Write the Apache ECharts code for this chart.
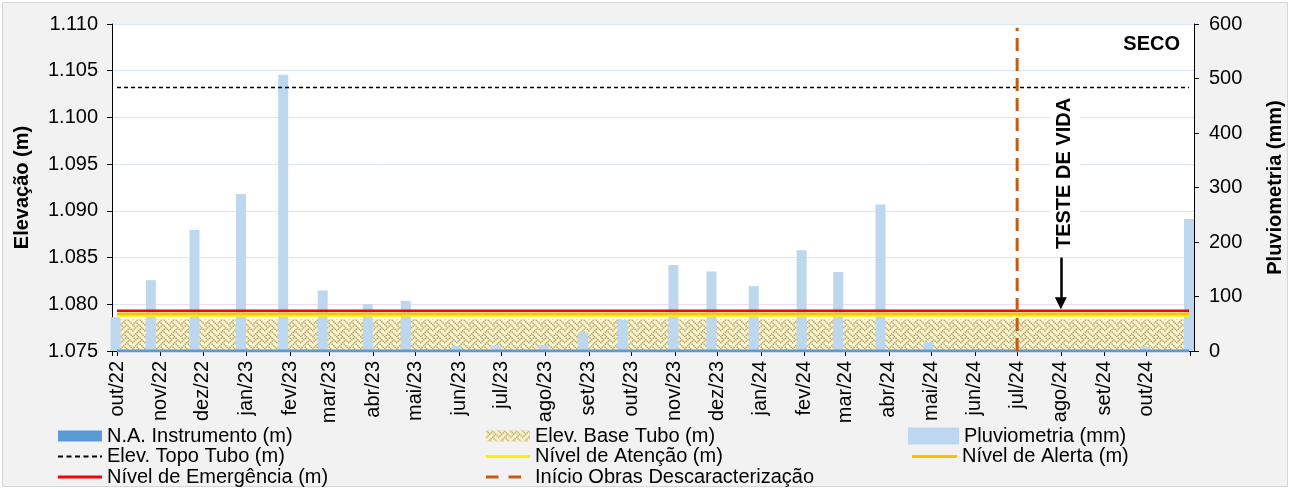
<!DOCTYPE html>
<html><head><meta charset="utf-8">
<script src="https://cdn.jsdelivr.net/npm/echarts@6/dist/echarts.min.js"></script>
<style>html,body{margin:0;padding:0;background:#fff;}#c{width:1290px;height:489px;}</style>
</head><body><div id="c"></div>
<script>
// ---- data ----
const monthNames = ['jan','fev','mar','abr','mai','jun','jul','ago','set','out','nov','dez'];
const xMin = '2022-10-01';
const xMax = '2024-10-31';
const rainDates = ['2022-09-30','2022-10-25','2022-11-25','2022-12-28','2023-01-27','2023-02-24','2023-03-28','2023-04-24','2023-05-30','2023-06-27','2023-07-31','2023-08-28','2023-09-25','2023-10-31','2023-11-27','2023-12-27','2024-01-30','2024-02-25','2024-03-26','2024-04-29','2024-09-30','2024-10-31'];
const rainValues = [62,130,222,288,507,111,86,92,9,10,11,34,57,158,146,119,185,145,269,16,8,242];
const naDates = ['2022-10-01','2023-04-01','2023-10-01','2024-04-01','2024-10-31'];
const naValues = [1.075,1.075,1.075,1.075,1.075];
const baseTubo = 1.0784;
const topoTubo = 1.1032;
const nivelAtencao = 1.0788;
const nivelAlerta = 1.0790;
const nivelEmergencia = 1.0793;
const obrasDate = '2024-07-01';
const obrasRange = [1.075, 1.1096];
const testeDate = '2024-08-01';
const arrowRange = [1.0850, 1.0801];
const testeLabelY = 1.0940;
const secoLabelY = 1.1078;

const FONT = 'Liberation Sans, Arial, sans-serif';
const DAY = 864e5;
const ts = (s) => { const p = s.split('-').map(Number); return Date.UTC(p[0], p[1]-1, p[2]); };

function makeWeave(){
  const s = 1.5, c = document.createElement('canvas');
  c.width = 12; c.height = 12;
  const g = c.getContext('2d');
  g.fillStyle = '#fcf4c8'; g.fillRect(0,0,12,12);
  const rows = [0x88,0x54,0x22,0x45,0x88,0x14,0x22,0x51];
  g.fillStyle = '#b3a77a';
  rows.forEach((r,y)=>{for(let x=0;x<8;x++){ if(r & (0x80>>x)) g.fillRect(x*s,y*s,s,s);}});
  return c;
}
const weave = {image: makeWeave(), repeat: 'repeat'};

const pair = (d, v) => d.map((x,i)=>[ts(x), v[i]]);
const flat = (v) => [[ts(xMin), v],[ts(xMax), v]];

const ICON_DASH_BLACK = 'path://M0,0h5v2h-5zM8.5,0h5v2h-5zM17,0h5v2h-5zM25.5,0h5v2h-5zM34,0h5v2h-5zM42,0h2v2h-2z';
const ICON_DASH_ORANGE = 'path://M0,0h12.5v3h-12.5zM22.5,0h12.5v3h-12.5zM43.9,0h0.1v0.1h-0.1z';

const legendText = {fontSize:20, lineHeight:20, color:'#000', fontFamily:FONT};
function leg(name, left, top, icon, w, h, extra){
  return {left:left, top:top, padding:0, itemWidth:w, itemHeight:h, selectedMode:false,
    textStyle:legendText, data:[Object.assign({name:name, icon:icon}, extra||{})]};
}

const chart = echarts.init(document.getElementById('c'), null, {renderer:'canvas'});
const xMaxTs = ts(xMax);
const option = {
  animation: false,
  useUTC: true,
  textStyle: {fontFamily: FONT, color:'#000'},
  graphic: [{type:'rect', z:-10, silent:true, shape:{x:2.5,y:2.5,width:1285,height:484},
    style:{fill:'#f2f2f2', stroke:'#d6d6d6', lineWidth:1}}],
  grid: {left:112, right:96, top:24, bottom:138, show:true, backgroundColor:'#fff', borderWidth:0,
    containLabel:false, outerBoundsMode:'none'},
  legend: [
    leg('N.A. Instrumento (m)', 58, 426, 'rect', 44, 11),
    leg('Elev. Topo Tubo (m)', 58, 446.5, ICON_DASH_BLACK, 44, 2),
    leg('Nível de Emergência (m)', 58, 467, 'rect', 44, 3),
    leg('Elev. Base Tubo (m)', 486, 426, 'rect', 44, 11, {itemStyle:{color:weave}}),
    leg('Nível de Atenção (m)', 486, 446.5, 'rect', 44, 3),
    leg('Início Obras Descaracterização', 486, 467, ICON_DASH_ORANGE, 44, 3),
    leg('Pluviometria (mm)', 908, 426, 'rect', 51, 17),
    leg('Nível de Alerta (m)', 912, 446.5, 'rect', 45, 3)
  ],
  xAxis: {
    type:'time', min:ts(xMin), max:xMaxTs, splitNumber:25,
    minInterval: 27*DAY, maxInterval: 32*DAY,
    axisLine:{show:true, onZero:false, lineStyle:{color:'#000', width:1}},
    axisTick:{show:true, length:5, lineStyle:{color:'#000'}},
    splitLine:{show:false}, minorTick:{show:false},
    axisLabel:{rotate:90, margin:10, fontSize:20, color:'#000', fontFamily:FONT,
      showMinLabel:true, showMaxLabel:false, hideOverlap:false,
      formatter:(v)=>{ if (v > xMaxTs - DAY) return '';
        const d=new Date(v + 6*3600e3); if (d.getUTCDate() !== 1) return '';
        return monthNames[d.getUTCMonth()]+'/'+String(d.getUTCFullYear()).slice(2);}}
  },
  yAxis: [
    {type:'value', position:'left', min:1.075, max:1.110, interval:0.005,
     axisLine:{show:true, lineStyle:{color:'#000'}},
     axisTick:{show:true, length:5, lineStyle:{color:'#000'}},
     axisLabel:{fontSize:20, color:'#000', margin:14, fontFamily:FONT, formatter:(v)=>v.toFixed(3)},
     splitLine:{show:true, lineStyle:{color:'#dde7f3', width:1}},
     name:'Elevação (m)', nameLocation:'middle', nameRotate:90, nameGap:80,
     nameTextStyle:{fontSize:20, fontWeight:'bold', color:'#000', fontFamily:FONT}},
    {type:'value', position:'right', min:0, max:600, interval:100,
     axisLine:{show:true, lineStyle:{color:'#000'}},
     axisTick:{show:true, length:5, lineStyle:{color:'#000'}},
     axisLabel:{fontSize:20, color:'#000', margin:15, fontFamily:FONT},
     splitLine:{show:false},
     name:'Pluviometria (mm)', nameLocation:'middle', nameRotate:90, nameGap:71,
     nameTextStyle:{fontSize:20, fontWeight:'bold', color:'#000', fontFamily:FONT}}
  ],
  series: [
    {name:'Elev. Base Tubo (m)', type:'line', data:flat(baseTubo), symbol:'none', z:1,
     lineStyle:{width:0, color:'#c9bd8a'}, itemStyle:{color:weave},
     areaStyle:{color:weave, opacity:1, origin:'start'}},
    {name:'Pluviometria (mm)', type:'bar', yAxisIndex:1, data:pair(rainDates, rainValues),
     barWidth:10, clip:true, z:2, itemStyle:{color:'#bdd7ee'}},
    {name:'N.A. Instrumento (m)', type:'line', data:pair(naDates, naValues), symbol:'none', z:3,
     lineStyle:{width:3, color:'#5b9bd5'}, itemStyle:{color:'#5b9bd5'}},
    {name:'Elev. Topo Tubo (m)', type:'line', data:flat(topoTubo), symbol:'none', z:4,
     lineStyle:{width:1.5, color:'#000', type:[4,3]}, itemStyle:{color:'#000'}},
    {name:'Nível de Atenção (m)', type:'line', data:flat(nivelAtencao), symbol:'none', z:5,
     lineStyle:{width:2.5, color:'#ffee00'}, itemStyle:{color:'#ffee00'}},
    {name:'Nível de Alerta (m)', type:'line', data:flat(nivelAlerta), symbol:'none', z:6,
     lineStyle:{width:2.5, color:'#ffc000'}, itemStyle:{color:'#ffc000'}},
    {name:'Nível de Emergência (m)', type:'line', data:flat(nivelEmergencia), symbol:'none', z:7,
     lineStyle:{width:2.5, color:'#ff0000'}, itemStyle:{color:'#ff0000'}},
    {name:'Início Obras Descaracterização', type:'line', data:[[ts(obrasDate), obrasRange[0]],[ts(obrasDate), obrasRange[1]]],
     symbol:'none', z:8, lineStyle:{width:3, color:'#c55a11', type:[13,7]}, itemStyle:{color:'#c55a11'},
     markLine:{silent:true, symbol:['none','triangle'], symbolSize:[12,12], label:{show:false},
       lineStyle:{color:'#000', width:2.5, type:'solid'},
       data:[[{coord:[ts(testeDate), arrowRange[0]]},{coord:[ts(testeDate), arrowRange[1]]}]]}}
  ]
};
chart.setOption(option);

const pT = chart.convertToPixel({gridIndex:0}, [ts(testeDate), testeLabelY]);
const pS = chart.convertToPixel({gridIndex:0}, [xMaxTs, secoLabelY]);
chart.setOption({graphic: [
  option.graphic[0],
  {type:'text', x:pT[0]+4, y:pT[1], rotation:Math.PI/2, z:20,
   style:{text:'TESTE DE VIDA', fontSize:20, fontWeight:'bold', fontFamily:FONT, fill:'#000',
     align:'center', verticalAlign:'middle', backgroundColor:'#fff', padding:[5,4]}},
  {type:'text', x:pS[0]-9, y:pS[1], z:20,
   style:{text:'SECO', fontSize:20, fontWeight:'bold', fontFamily:FONT, fill:'#000',
     align:'right', verticalAlign:'middle'}}
]});
</script></body></html>
